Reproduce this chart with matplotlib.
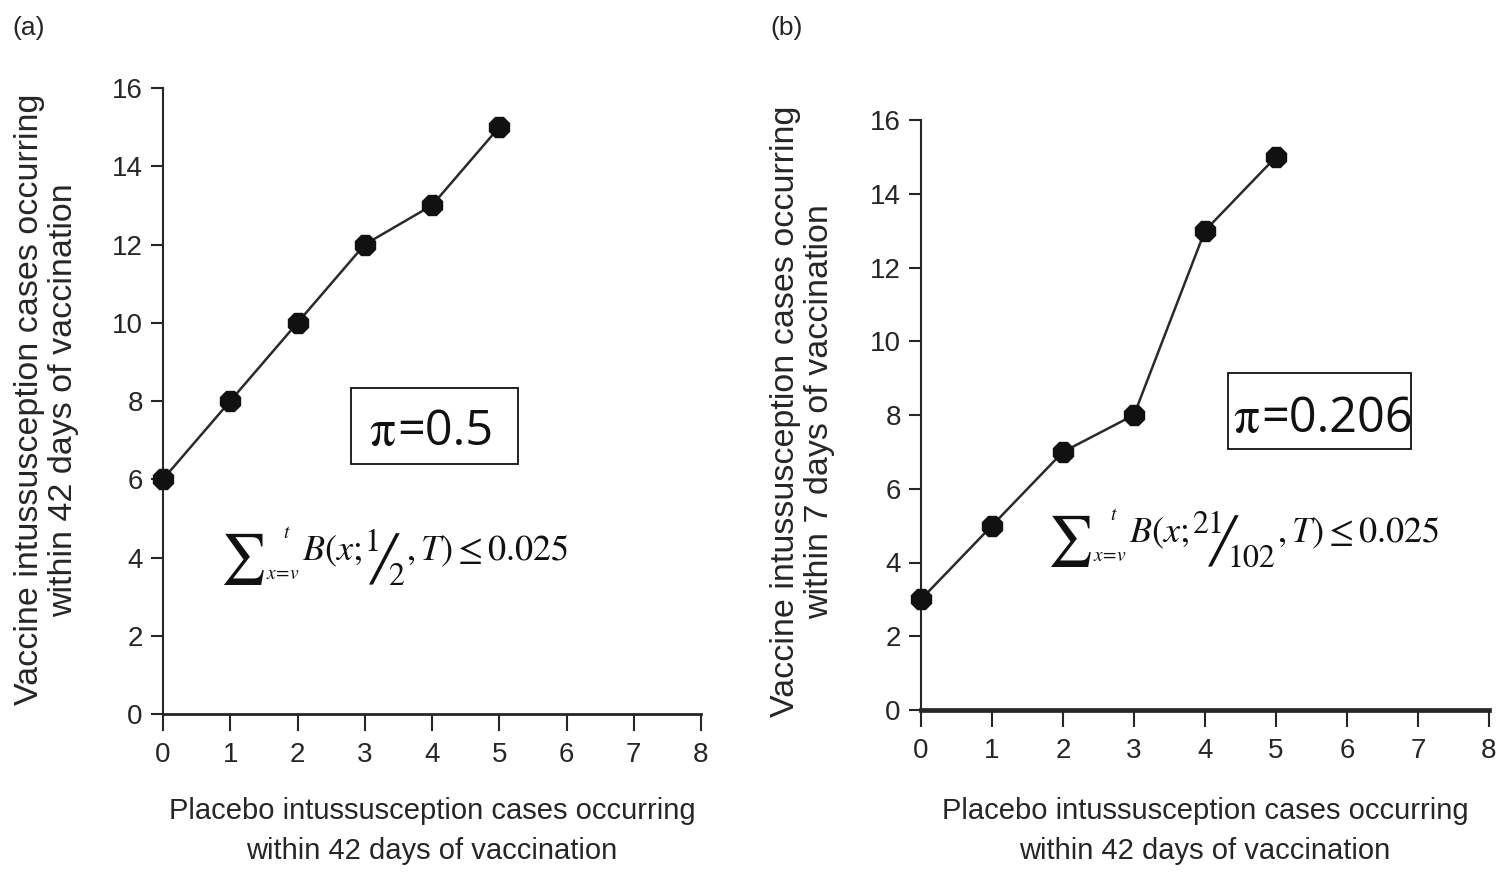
import matplotlib
matplotlib.use("Agg")
import matplotlib.pyplot as plt
from matplotlib.patches import Rectangle

# ---- data ----
placebo_cases = [0, 1, 2, 3, 4, 5]
vaccine_cases_42d = [6, 8, 10, 12, 13, 15]
vaccine_cases_7d = [3, 5, 7, 8, 13, 15]
x_ticks = [0, 1, 2, 3, 4, 5, 6, 7, 8]
y_ticks = [0, 2, 4, 6, 8, 10, 12, 14, 16]
xlabel_text = "Placebo intussusception cases occurring\nwithin 42 days of vaccination"
ylabel_a = "Vaccine intussusception cases occurring\nwithin 42 days of vaccination"
ylabel_b = "Vaccine intussusception cases occurring\nwithin 7 days of vaccination"
pi_value_a = "=0.5"
pi_value_b = "=0.206"
frac_a = ("1", "2")
frac_b = ("21", "102")

plt.rcParams['font.family'] = ['Liberation Sans', 'DejaVu Sans']
plt.rcParams['mathtext.fontset'] = 'stix'
TXT = '#262626'
INK = '#111111'
W, H = 1503, 872

fig = plt.figure(figsize=(W / 100, H / 100), dpi=100)
ax_a = fig.add_axes([163 / W, 1 - 714 / H, 538 / W, 626 / H])
ax_b = fig.add_axes([921 / W, 1 - 710 / H, 568 / W, 590 / H])


def style(ax, ylabel, bottom_lw):
    for s in ['top', 'right']:
        ax.spines[s].set_visible(False)
    ax.spines['left'].set_linewidth(1.5)
    ax.spines['bottom'].set_linewidth(bottom_lw)
    for s in ['left', 'bottom']:
        ax.spines[s].set_color(TXT)
    ax.set_xlim(0, 8)
    ax.set_ylim(0, 16)
    ax.set_xticks(x_ticks)
    ax.set_yticks(y_ticks)
    ax.tick_params(axis='y', length=8.5, width=1.5, pad=6, labelsize=20, colors=TXT)
    ax.tick_params(axis='x', length=12, width=1.5, pad=8, labelsize=20, colors=TXT)
    ax.set_xlabel(xlabel_text, fontsize=21, color=TXT, linespacing=1.55, va='top')
    ax.set_ylabel(ylabel, fontsize=24.5, color=TXT, linespacing=1.12)


style(ax_a, ylabel_a, 2.0)
style(ax_b, ylabel_b, 3.4)

ax_a.xaxis.set_label_coords(0.5, -0.1326)
ax_a.yaxis.set_label_coords(-0.156, 0.502)
ax_b.xaxis.set_label_coords(0.5, -0.147)
ax_b.yaxis.set_label_coords(-0.151, 0.506)

for ax, ys in [(ax_a, vaccine_cases_42d), (ax_b, vaccine_cases_7d)]:
    ax.plot(placebo_cases, ys, color='#2a2a2a', lw=1.8, marker='8',
            markersize=15, markerfacecolor=INK, markeredgecolor=INK,
            clip_on=False, zorder=3)


def fy(px):
    return 1 - px / H


def piece(ax, prev, s, dx, y_px, size, anchor=1.0, va='baseline', family='STIXGeneral'):
    return ax.annotate(s, xy=(anchor, fy(y_px)), xycoords=(prev, fig.transFigure),
                       xytext=(dx, 0), textcoords='offset pixels', fontsize=size,
                       ha='left', va=va, family=family, color=INK,
                       annotation_clip=False)


def formula(ax, x0, base, frac, sup_dx, sl_dx):
    s = fig.text(x0 / W, fy(base + 12), "\u2211", fontsize=36, ha='left', va='baseline',
                 family='STIXGeneral', color=INK)
    piece(ax, s, r"$t$", sup_dx, base - 22, 14)
    sub = piece(ax, s, r"$x\!=\!v$", 0, base + 19, 14)
    b = piece(ax, sub, r"$B(x;$", 2, base, 26)
    num = piece(ax, b, frac[0], 3, base - 9, 23)
    sl = piece(ax, num, "\u2571", sl_dx, base + 14, 32, family=['DejaVu Sans'])
    den = piece(ax, sl, frac[1], -9, base + 25, 23)
    piece(ax, den, r"$,T)\leq 0.025$", 2, base, 26)


formula(ax_a, 220, 560, frac_a, 17, -10)
formula(ax_b, 1047, 542, frac_b, 17, -14)


def pi_box(ax, box, x0, base, value):
    x, y, w, h = box
    ax.add_patch(Rectangle((x / W, fy(y + h)), w / W, h / H, transform=fig.transFigure,
                           fill=False, lw=1.3, edgecolor=INK, clip_on=False))
    p = fig.text(x0 / W, fy(base), "\u03c0", fontsize=37, ha='left', va='baseline',
                 family='STIXGeneral', color=INK)
    piece(ax, p, value, 1, base, 35, family=['Open Sans', 'DejaVu Sans'])


pi_box(ax_a, (351, 388, 167, 76), 370, 445, pi_value_a)
pi_box(ax_b, (1228, 373, 183, 76), 1234, 432, pi_value_b)

fig.text(12 / W, fy(28), "(a)", fontsize=19, ha='left', va='center', color=TXT)
fig.text(770 / W, fy(28), "(b)", fontsize=19, ha='left', va='center', color=TXT)

fig.savefig("out.png", dpi=100, facecolor='white')
